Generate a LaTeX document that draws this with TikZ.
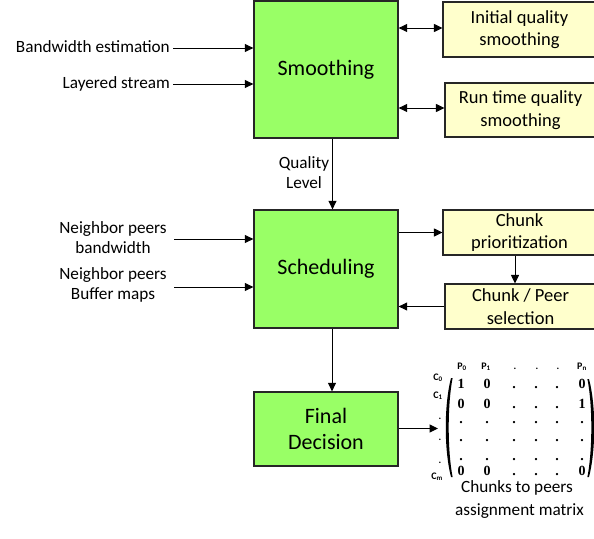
\documentclass[tikz,border=0pt]{standalone}
\usepackage{fontspec}
\setmainfont{Carlito}
\newfontfamily\mserif{Liberation Serif}
\usetikzlibrary{arrows.meta}
\definecolor{boxgreen}{HTML}{99FF66}
\definecolor{boxyellow}{HTML}{FFFFCC}
\begin{document}
\begin{tikzpicture}[x=1pt,y=-1pt,
  gbox/.style={draw=black!85, line width=1.3pt, fill=boxgreen, minimum width=144pt,
    inner sep=0pt, align=center, font=\fontsize{22}{26}\selectfont},
  ybox/.style={draw=black!85, line width=1.1pt, fill=boxyellow, inner sep=0pt,
    align=center, font=\fontsize{18.5}{22.5}\selectfont},
  lab/.style={inner sep=0pt, align=center, font=\fontsize{17.2}{20}\selectfont},
  arr/.style={line width=1pt, -{Triangle[length=8.5pt,width=8pt]}},
  dbl/.style={line width=1pt, {Triangle[length=8.5pt,width=8pt]}-{Triangle[length=8.5pt,width=8pt]}},
  mnum/.style={inner sep=0pt, anchor=base, text height=9pt, text depth=0pt,
    font=\mserif\bfseries\fontsize{14}{14}\selectfont},
  mhead/.style={inner sep=0pt, anchor=base, font=\bfseries\fontsize{10}{10}\selectfont}
]
\useasboundingbox (0,0) rectangle (594,538);
\clip (0,0) rectangle (594,538);

% main boxes
\node[gbox, minimum height=137pt] (smooth) at (326,69.5) {Smoothing};
\node[gbox, minimum height=118pt] (sched) at (326,269) {Scheduling};
\node[gbox, minimum height=74pt] (final) at (326,429) {Final\\Decision};

% side boxes
\node[ybox, minimum width=153pt, minimum height=55pt] (init) at (519.5,29.5) {Initial quality\\smoothing};
\node[ybox, minimum width=151pt, minimum height=54pt] (run) at (520.5,110) {Run time quality\\smoothing};
\node[ybox, minimum width=153pt, minimum height=45pt] (prio) at (519.5,232.5) {Chunk\\prioritization};
\node[ybox, minimum width=151pt, minimum height=45pt] (sel) at (520.5,306.5) {Chunk / Peer\\selection};

% input labels
\node[lab, anchor=east, text height=12pt, text depth=3.5pt] (bw) at (170,48) {Bandwidth estimation};
\node[lab, anchor=east, text height=12pt, text depth=3.5pt] (ls) at (170,84) {Layered stream};
\node[lab] (nbw) at (113,237.5) {Neighbor peers\\bandwidth};
\node[lab] (nbm) at (113,285) {Neighbor peers\\Buffer maps};
\node[lab] (ql) at (304,173) {Quality\\Level};

\coordinate (bwstart) at (173,48);
\coordinate (lsstart) at (173,84);
\coordinate (nbwstart) at (174,239);
\coordinate (nbmstart) at (174,287);
\draw[arr] (bwstart) -- (bwstart -| smooth.west);
\draw[arr] (lsstart) -- (lsstart -| smooth.west);
\draw[arr] (nbwstart) -- (nbwstart -| sched.west);
\draw[arr] (nbmstart) -- (nbmstart -| sched.west);

% vertical flow
\draw[arr] ([xshift=6.5pt]smooth.south) -- ([xshift=6.5pt]sched.north);
\draw[arr] ([xshift=6pt]sched.south) -- ([xshift=6pt]final.north);

% side connections
\draw[dbl] ([yshift=1.5pt]smooth.east |- init.west) -- ([yshift=1.5pt]init.west);
\draw[dbl] ([yshift=2pt]smooth.east |- run.west) -- ([yshift=2pt]run.west);
\draw[arr] (sched.east |- prio.west) -- (prio.west);
\draw[arr] (sel.west) -- (sel.west -| sched.east);
\draw[arr] ([xshift=-4.5pt]prio.south) -- ([xshift=-4.5pt]prio.south |- sel.north);

% to matrix
\coordinate (mtip) at (438,428.5);
\draw[arr] (final.east |- mtip) -- (mtip);

% matrix column headers
\node[mhead] (h1) at (462,369) {P\textsubscript{0}};
\node[mhead] (h2) at (486,369) {P\textsubscript{1}};
\node[mhead] (h3) at (515,369) {.};
\node[mhead] (h4) at (537,369) {.};
\node[mhead] (h5) at (558,369) {.};
\node[mhead] (h6) at (582,369) {P\textsubscript{n}};

% row labels
\node[mhead] (r1) at (438,380) {C\textsubscript{0}};
\node[mhead] (r2) at (438,398) {C\textsubscript{1}};
\node[mhead] (r3) at (440,419) {.};
\node[mhead] (r4) at (440,440) {.};
\node[mhead] (r5) at (440,463) {.};
\node[mhead] (r6) at (437,479) {C\textsubscript{m}};

% parentheses
\fill (451,378) .. controls (444,405) and (444,450) .. (451,477)
  -- (452.6,477) .. controls (447.4,450) and (447.4,405) .. (452.6,378) -- cycle;
\fill (589,379) .. controls (596,405) and (596,450) .. (589,477)
  -- (587.4,477) .. controls (592.6,450) and (592.6,405) .. (587.4,379) -- cycle;

% matrix entries
\foreach \r/\y/\a/\b/\c/\d/\e/\f in {1/388/1/0/./././0, 2/408/0/0/./././1, 3/423/./././././., 4/441/./././././., 5/460/./././././., 6/475/0/0/./././0}{
  \node[mnum] (m\r-1) at (461,\y) {\a};
  \node[mnum] (m\r-2) at (487,\y) {\b};
  \node[mnum] (m\r-3) at (514,\y) {\c};
  \node[mnum] (m\r-4) at (536,\y) {\d};
  \node[mnum] (m\r-5) at (557,\y) {\e};
  \node[mnum] (m\r-6) at (582,\y) {\f};
}

% caption
\node[lab] (cap1) at (517,488) {Chunks to peers};
\node[lab, anchor=west] (cap2) at (455,511) {assignment matrix};
\end{tikzpicture}
\end{document}
